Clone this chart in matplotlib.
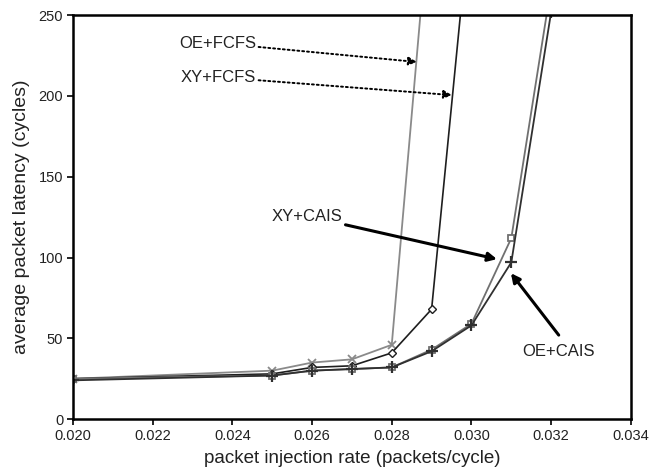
import matplotlib
matplotlib.use("Agg")
import matplotlib.pyplot as plt

plt.rcParams['font.family'] = ['Liberation Sans', 'DejaVu Sans']

# injection rates (packets/cycle)
rate = [0.020, 0.025, 0.026, 0.027, 0.028, 0.029, 0.030, 0.031, 0.032]

# average packet latency (cycles)
oe_fcfs = [25, 30, 35, 37, 46, 330]
xy_fcfs = [25, 28, 32, 33, 41, 68, 320]
xy_cais = [25, 27, 30, 31, 32, 43, 59, 112, 268]
oe_cais = [24, 27, 30, 31, 32, 42, 58, 97, 252]

fig = plt.figure(figsize=(6.69, 4.72), dpi=100)
ax = fig.add_axes([0.109, 0.112, 0.834, 0.856])

ax.plot(rate[:len(oe_fcfs)], oe_fcfs, color='#8a8a8a', lw=1.3, marker='x',
        ms=6, mew=1.3)
ax.plot(rate[:len(xy_fcfs)], xy_fcfs, color='#1e1e1e', lw=1.2, marker='D',
        ms=4.5, mfc='white', mew=1.0)
ax.plot(rate, xy_cais, color='#707070', lw=1.3, marker='s', ms=5,
        mfc='white', mew=1.3)
ax.plot(rate, oe_cais, color='#303030', lw=1.3, marker='+', ms=8, mew=1.6)

ax.set_xlim(0.020, 0.034)
ax.set_ylim(0, 250)
ax.set_xticks([0.020, 0.022, 0.024, 0.026, 0.028, 0.030, 0.032, 0.034])
ax.set_xticklabels(['0.020', '0.022', '0.024', '0.026', '0.028', '0.030',
                    '0.032', '0.034'])
ax.set_yticks([0, 50, 100, 150, 200, 250])
ax.tick_params(labelsize=10.5, length=4, width=1.2, color='black',
               labelcolor='#222222', pad=3)
for s in ax.spines.values():
    s.set_linewidth(1.8)

ax.set_xlabel('packet injection rate (packets/cycle)', fontsize=13.5,
              labelpad=5, color='#222222')
ax.set_ylabel('average packet latency (cycles)', fontsize=14, labelpad=6,
              color='#222222')

# dotted annotations
dot = dict(arrowstyle='-|>', linestyle=(0, (1, 1.5)), lw=1.4, color='black',
           mutation_scale=12, shrinkA=0, shrinkB=0)
ax.annotate('OE+FCFS', xy=(0.02863, 221), xytext=(0.02459, 232.7),
            arrowprops=dot, fontsize=12, ha='right', va='center',
            color='#222222')
ax.annotate('XY+FCFS', xy=(0.02951, 200.5), xytext=(0.02459, 211.6),
            arrowprops=dot, fontsize=12, ha='right', va='center',
            color='#222222')

# solid annotations
sol = dict(arrowstyle='-|>', lw=2.2, color='black', mutation_scale=13,
           shrinkA=0, shrinkB=0)
ax.annotate('XY+CAIS', xy=(0.03064, 99), xytext=(0.02677, 125.6),
            arrowprops=sol, fontsize=12, ha='right', va='center',
            color='#222222')
ax.annotate('', xy=(0.03099, 90.3), xytext=(0.03219, 52), arrowprops=sol)
ax.text(0.03219, 42, 'OE+CAIS', fontsize=12, ha='center', va='center',
        color='#222222')

fig.savefig('out.png', dpi=100)
